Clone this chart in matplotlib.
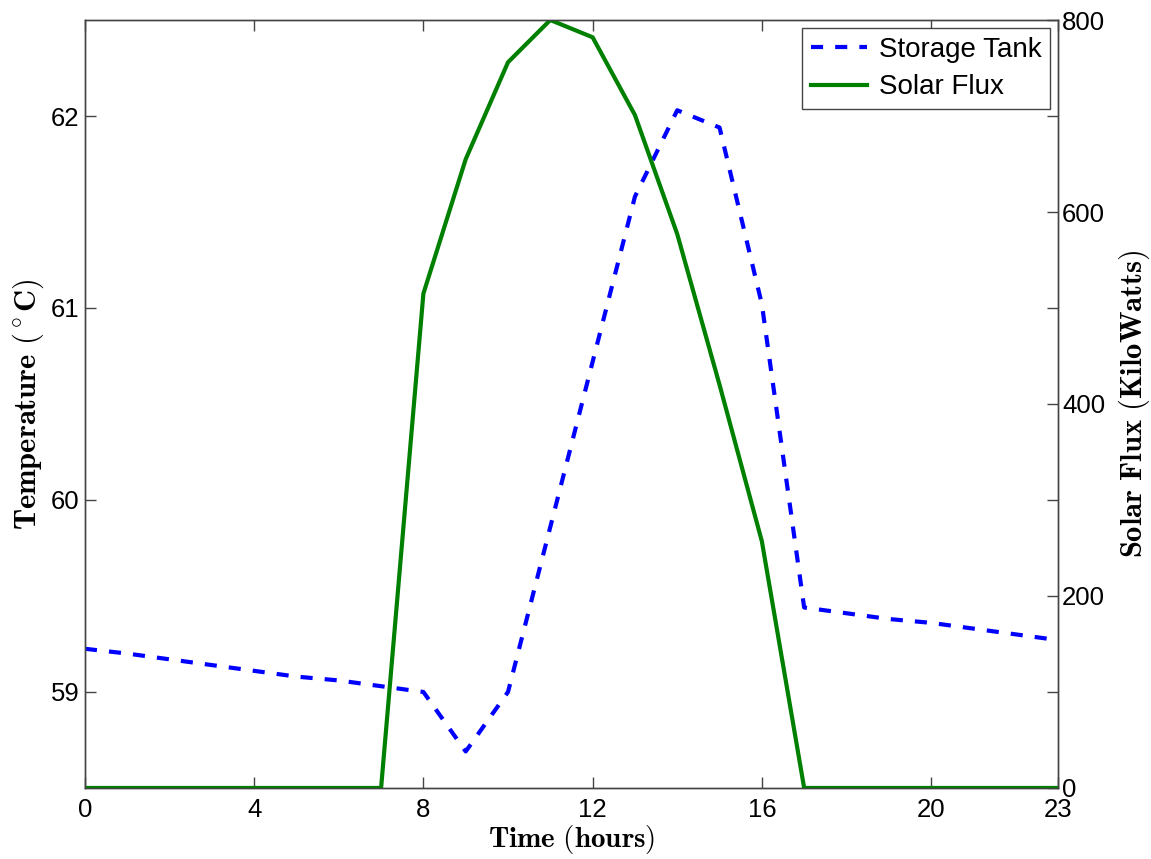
import matplotlib
matplotlib.use('Agg')
import matplotlib.pyplot as plt
import numpy as np

plt.rcParams.update({
    'font.family': 'Liberation Sans',
    'mathtext.fontset': 'cm',
    'xtick.direction': 'in',
    'ytick.direction': 'in',
})

hours = np.arange(24)

# tank temperature, degC
tank_temp = [59.225, 59.20, 59.17, 59.14, 59.11, 59.08, 59.06, 59.03, 59.00,
             58.69, 59.00, 59.86, 60.72, 61.58, 62.03, 61.94, 61.02, 59.44,
             59.41, 59.38, 59.36, 59.33, 59.30, 59.27]

# solar flux, kW
solar_flux = [0, 0, 0, 0, 0, 0, 0, 0, 515, 655, 756, 800, 782, 701, 577,
              420, 257, 0, 0, 0, 0, 0, 0, 0]

x_ticks = [0, 4, 8, 12, 16, 20, 23]
temp_ticks = [59, 60, 61, 62]
flux_ticks = [0, 200, 400, 600, 800]

fig = plt.figure(figsize=(11.51, 8.59), dpi=100)
ax1 = fig.add_axes([0.0738, 0.0827, 0.8454, 0.894])
ax2 = ax1.twinx()

spine_col = '#444444'
for a in (ax1, ax2):
    for s in a.spines.values():
        s.set_color(spine_col)
        s.set_linewidth(1.0)
    a.tick_params(colors='black', labelsize=18.5, length=8, width=1)
    a.tick_params(axis='both', color=spine_col)

l1, = ax1.plot(hours, tank_temp, color=(0, 0, 1), lw=3, dashes=(2.9, 2.9),
               label='Storage Tank')
l2, = ax2.plot(hours, solar_flux, color=(0, 0.5, 0), lw=3, label='Solar Flux')

ax1.set_xlim(0, 23)
ax1.set_ylim(58.5, 62.5)
ax1.set_xticks(x_ticks)
ax1.set_yticks(temp_ticks)
ax1.tick_params(axis='x', top=True, pad=7)
ax1.tick_params(axis='y', right=True, pad=4)

ax2.set_ylim(0, 800)
ax2.set_yticks(flux_ticks)
ax2.tick_params(axis='y', pad=3)

ax1.set_xlabel(r'$\mathbf{Time\ (hours)}$', fontsize=21, labelpad=1)
ax1.set_ylabel(r'$\mathbf{Temperature\ (^\circ C)}$', fontsize=22,
               labelpad=3)
ax2.set_ylabel(r'$\mathbf{Solar\ Flux\ (KiloWatts)}$', fontsize=22,
               labelpad=8)

leg = ax2.legend(handles=[l1, l2], loc='upper right', fontsize=20,
                 fancybox=False, edgecolor=spine_col, framealpha=1,
                 handlelength=2.05, handletextpad=0.4, borderpad=0.3,
                 labelspacing=0.42, borderaxespad=0.3)
leg.get_frame().set_linewidth(1.0)

fig.savefig('out.png', dpi=100)
